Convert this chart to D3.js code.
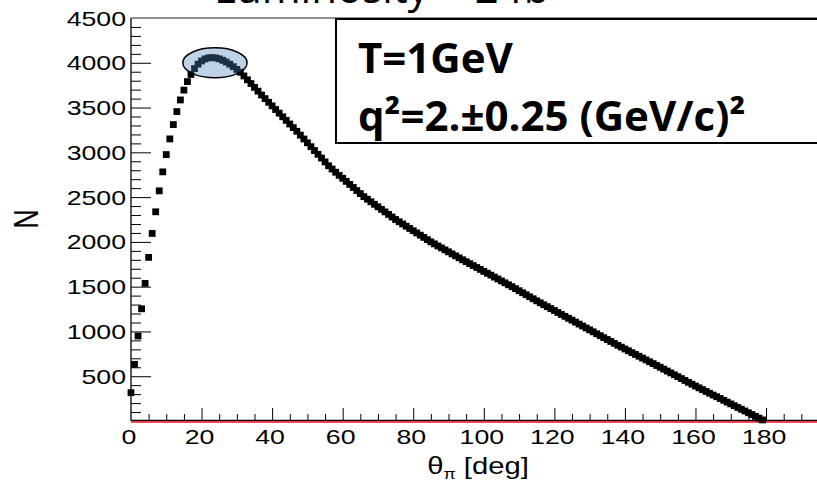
<!DOCTYPE html>
<html>
<head>
<meta charset="utf-8">
<script src="https://cdn.jsdelivr.net/npm/d3@7"></script>
<style>
  body { margin: 0; background: #fff; }
  svg { display: block; }
</style>
</head>
<body>
<svg id="chart" width="817" height="487"></svg>
<script>
// Histogram of pion angles: one entry per 1-degree bin, starting at 0 deg
const binStart = 0;
const binWidth = 1;
const counts = [
  316, 633, 949, 1253, 1537, 1827, 2094, 2336, 2570, 2782,
  2975, 3150, 3310, 3455, 3585, 3695, 3790, 3870, 3935, 3985,
  4020, 4043, 4055, 4058, 4054, 4044, 4028, 4008, 3984, 3956,
  3926, 3895, 3853, 3810, 3768, 3725, 3683, 3640, 3600, 3559,
  3519, 3478, 3438, 3397, 3357, 3316, 3276, 3235, 3192, 3149,
  3106, 3063, 3020, 2978, 2936, 2893, 2850, 2814, 2778, 2743,
  2710, 2676, 2642, 2608, 2573, 2539, 2505, 2477, 2448, 2420,
  2392, 2363, 2335, 2307, 2278, 2250, 2225, 2200, 2175, 2150,
  2125, 2100, 2075, 2050, 2025, 2000, 1978, 1955, 1933, 1911,
  1889, 1866, 1844, 1822, 1800, 1779, 1757, 1736, 1714, 1693,
  1671, 1650, 1629, 1607, 1586, 1564, 1543, 1521, 1500, 1478,
  1455, 1432, 1410, 1387, 1365, 1342, 1320, 1298, 1277, 1255,
  1234, 1212, 1190, 1169, 1147, 1126, 1104, 1082, 1061, 1039,
  1018, 996, 974, 953, 931, 910, 888, 867, 845, 825,
  804, 784, 763, 743, 723, 702, 682, 661, 641, 620,
  600, 579, 558, 537, 516, 495, 474, 453, 432, 411,
  390, 370, 350, 330, 310, 290, 271, 251, 231, 211,
  191, 171, 151, 131, 112, 92, 72, 52, 32, 12
];

const xMajorTicks = [0, 20, 40, 60, 80, 100, 120, 140, 160, 180];
const xTickLabels = ["0", "20", "40", "60", "80", "100", "120", "140", "160", "180"];
const yMajorTicks = [500, 1000, 1500, 2000, 2500, 3000, 3500, 4000, 4500];
const yTickLabels = ["500", "1000", "1500", "2000", "2500", "3000", "3500", "4000", "4500"];

// Highlighted peak region (centre in deg / counts, half-widths likewise)
const peakMark = { theta: 23.8, n: 4000, dTheta: 9.1, dN: 167 };

const legendLines = ["T=1GeV", "q\u00B2=2.\u00B10.25 (GeV/c)\u00B2"];
const titleText = "Luminosity = 2 fb";

const svg = d3.select("#chart");
const W = 817, H = 487;
svg.append("rect").attr("width", W).attr("height", H).attr("fill", "#fff");

const x = d3.scaleLinear().domain([0, 200]).range([131, 836.6]);
const y = d3.scaleLinear().domain([0, 4500]).range([421, 18]);

const labelFont = "'Liberation Sans', Arial, sans-serif";
const stretch = 1.27;

// Frame: left axis and top border
svg.append("line").attr("x1", x(0)).attr("x2", x(0)).attr("y1", y(4500)).attr("y2", y(0))
  .attr("stroke", "#000").attr("stroke-width", 1.3);
svg.append("line").attr("x1", x(0)).attr("x2", W).attr("y1", y(4500)).attr("y2", y(4500))
  .attr("stroke", "#222").attr("stroke-width", 1.2);

// Y ticks: minor every 100, major every 500
const yMinor = d3.range(100, 4500, 100);
svg.append("g").selectAll("line").data(yMinor).join("line")
  .attr("x1", x(0)).attr("x2", d => x(0) + (d % 500 === 0 ? 20 : 10))
  .attr("y1", d => y(d) + 0.5).attr("y2", d => y(d) + 0.5)
  .attr("stroke", "#000").attr("stroke-width", 1);

svg.append("g").selectAll("text").data(yMajorTicks).join("text")
  .attr("transform", d => `translate(126,${y(d)}) scale(${stretch},1)`)
  .attr("text-anchor", "end").attr("dy", "0.36em")
  .attr("font-family", labelFont).attr("font-size", 21).attr("fill", "#000")
  .text((d, i) => yTickLabels[i]);

// X axis line, zero line and ticks (minor every 5 deg)
svg.append("line").attr("x1", x(0)).attr("x2", W).attr("y1", y(0) - 0.5).attr("y2", y(0) - 0.5)
  .attr("stroke", "#000").attr("stroke-width", 1.3);
svg.append("line").attr("x1", x(0)).attr("x2", W).attr("y1", y(0) + 1).attr("y2", y(0) + 1)
  .attr("stroke", "#e8141c").attr("stroke-width", 1.5);

const xMinor = d3.range(5, 200, 5);
svg.append("g").selectAll("line").data(xMinor).join("line")
  .attr("x1", d => x(d) + 0.5).attr("x2", d => x(d) + 0.5)
  .attr("y1", y(0)).attr("y2", d => y(0) - (d % 20 === 0 ? 13 : 7))
  .attr("stroke", "#000").attr("stroke-width", 1);

svg.append("g").selectAll("text").data(xMajorTicks).join("text")
  .attr("transform", d => `translate(${x(d) - 2},444) scale(${stretch},1)`)
  .attr("text-anchor", "middle")
  .attr("font-family", labelFont).attr("font-size", 21).attr("fill", "#000")
  .text((d, i) => xTickLabels[i]);

// Axis titles
const xt = svg.append("text")
  .attr("transform", `translate(478,474) scale(${stretch},1)`)
  .attr("text-anchor", "middle")
  .attr("font-family", labelFont).attr("font-size", 23).attr("fill", "#000");
xt.append("tspan").text("\u03B8");
xt.append("tspan").attr("font-size", 14).attr("dy", 5).text("\u03C0");
xt.append("tspan").attr("dy", -5).text(" [deg]");

svg.append("text")
  .attr("transform", `translate(38,219) scale(${stretch},1) rotate(-90)`)
  .attr("text-anchor", "middle")
  .attr("font-family", labelFont).attr("font-size", 27).attr("fill", "#000")
  .text("N");

// Histogram markers
const ms = 6.8;
svg.append("g").selectAll("rect").data(counts).join("rect")
  .attr("x", (d, i) => x(binStart + i * binWidth) - ms / 2)
  .attr("y", d => y(d) - ms / 2)
  .attr("width", ms).attr("height", ms)
  .attr("fill", "#000");

// Peak highlight
svg.append("ellipse")
  .attr("cx", x(peakMark.theta)).attr("cy", y(peakMark.n))
  .attr("rx", x(peakMark.dTheta) - x(0)).attr("ry", y(0) - y(peakMark.dN))
  .attr("fill", "rgba(79,129,189,0.36)")
  .attr("stroke", "#000").attr("stroke-width", 1.5);

// Legend box
svg.append("rect").attr("x", 336).attr("y", 19).attr("width", 520).attr("height", 124)
  .attr("fill", "#fff").attr("stroke", "#000").attr("stroke-width", 2);
const legendFont = "'Open Sans', 'Noto Sans', sans-serif";
svg.append("g").selectAll("text").data(legendLines).join("text")
  .attr("x", 358).attr("y", (d, i) => 73 + i * 58)
  .attr("font-family", legendFont).attr("font-weight", "bold").attr("font-size", 42)
  .attr("fill", "#000")
  .text(d => d);

// Title, mostly above the visible area
svg.append("text")
  .attr("x", 214).attr("y", 3)
  .attr("font-family", legendFont).attr("font-size", 42).attr("fill", "#000")
  .text(titleText);
</script>
</body>
</html>
